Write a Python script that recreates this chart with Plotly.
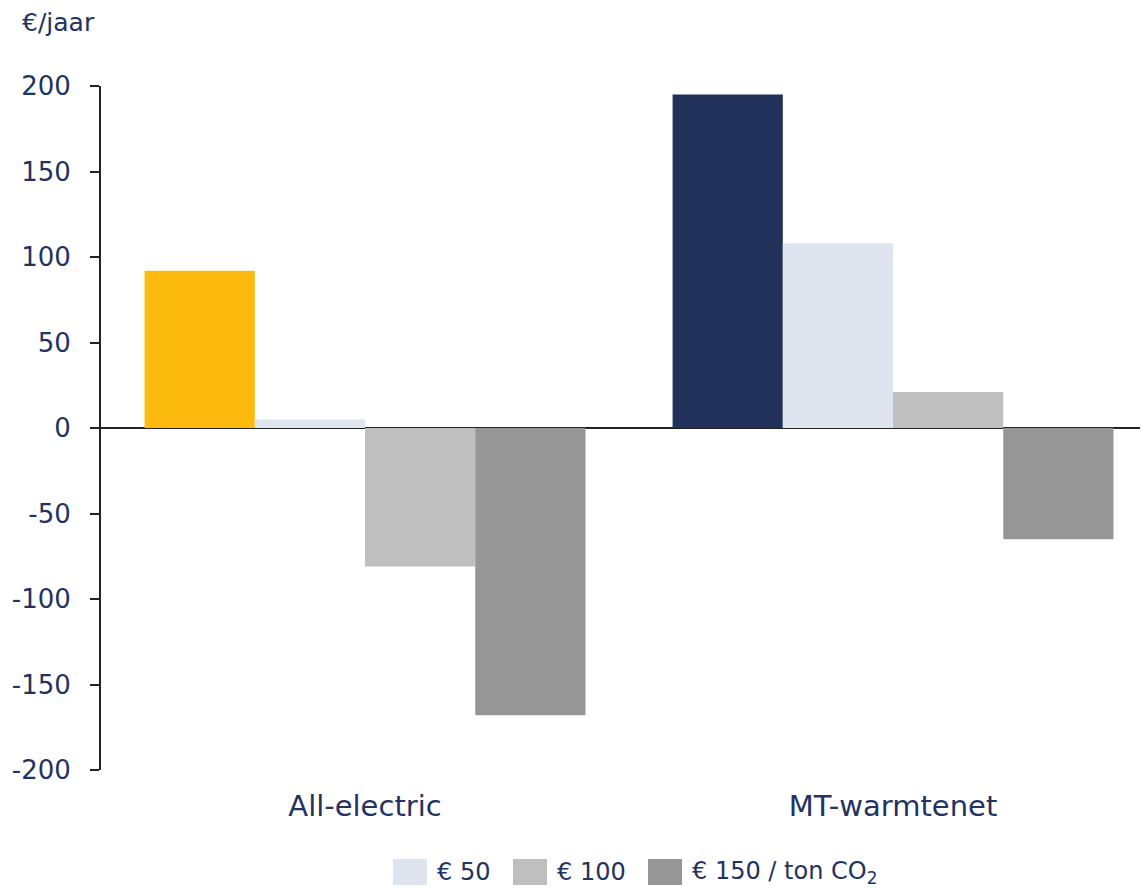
import plotly.graph_objects as go

categories = ["All-electric", "MT-warmtenet"]
base_values = [92, 195]
base_colors = ["#FBBA0D", "#22315A"]
co2_50 = [5, 108]
co2_100 = [-81, 21]
co2_150 = [-168, -65]
series_names = ["€ 50", "€ 100", "€ 150 / ton CO<sub>2</sub>"]
series_colors = ["#DFE5EF", "#BFBFBF", "#969696"]
y_ticks = [-200, -150, -100, -50, 0, 50, 100, 150, 200]
y_ticktext = [str(v) for v in y_ticks]  # plain hyphen, not unicode minus

navy = "#23325F"
font = "DejaVu Sans, Verdana, sans-serif"

# plot area in screen pixels (page has an 8px body margin)
PL, PR, PT, PB = 101, 1156, 86, 770


def fx(px):
    return (px - PL) / (PR - PL)


def fy(py):
    return (PB - py) / (PB - PT)


fig = go.Figure()
# first bar in each group has its own colour and no legend entry
fig.add_trace(go.Bar(x=categories, y=base_values, marker_color=base_colors,
                     marker_line_width=0, showlegend=False))
for name, vals, col in zip(series_names, [co2_50, co2_100, co2_150], series_colors):
    fig.add_trace(go.Bar(x=categories, y=vals, name=name, marker_color=col,
                         marker_line_width=0, showlegend=False))

# legend drawn by hand so the swatches can be large squares
legend_left = [393, 513, 648]
for name, col, x0 in zip(series_names, series_colors, legend_left):
    fig.add_shape(type="rect", xref="paper", yref="paper",
                  x0=fx(x0), x1=fx(x0 + 34), y0=fy(859), y1=fy(885),
                  fillcolor=col, line_width=0)
    fig.add_annotation(text=name, xref="paper", yref="paper",
                       x=fx(x0 + 42), y=fy(872), xanchor="left", yanchor="middle",
                       showarrow=False, font=dict(size=24, color=navy))

fig.add_annotation(text="€/jaar", xref="paper", yref="paper", x=fx(20), y=fy(22),
                   xanchor="left", yanchor="middle", showarrow=False,
                   font=dict(size=25, color=navy))

fig.update_layout(
    width=1148, height=880,
    barmode="group", bargap=0.165, bargroupgap=0,
    plot_bgcolor="white", paper_bgcolor="white",
    margin=dict(l=PL - 8, r=0, t=PT - 8, b=880 - (PB - 8)),
    font=dict(family=font, color=navy, size=24),
    showlegend=False,
)
fig.update_xaxes(range=[-0.5, 1.498], showline=False, ticks="", showgrid=False,
                 tickfont=dict(size=29, color=navy), ticklabelstandoff=16)
fig.update_yaxes(range=[-200, 200], tickvals=y_ticks, ticktext=y_ticktext,
                 showgrid=False,
                 showline=True, linecolor="#222222", linewidth=2,
                 ticks="outside", ticklen=9, tickwidth=2, tickcolor="#222222",
                 zeroline=True, zerolinecolor="#222222", zerolinewidth=2,
                 tickfont=dict(size=26, color=navy), ticklabelstandoff=14)

fig.write_html("out.html")
